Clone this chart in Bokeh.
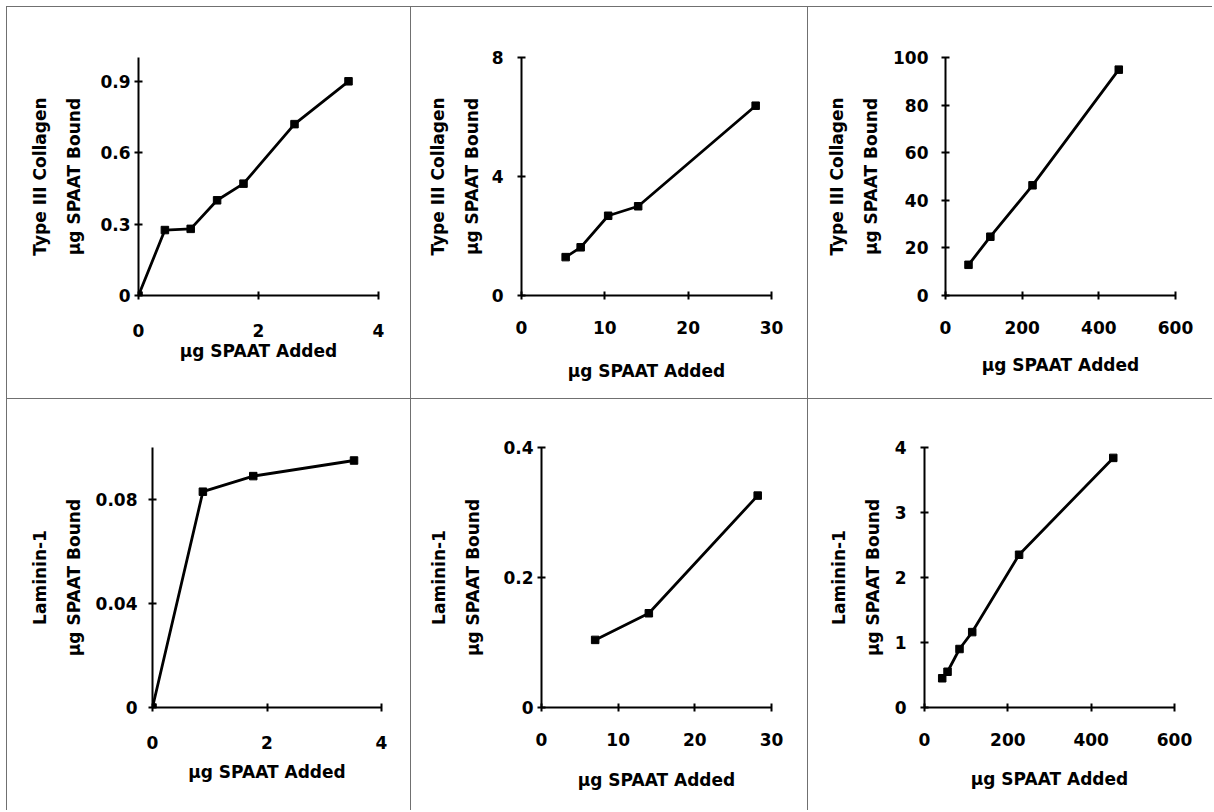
from bokeh.plotting import figure
from bokeh.layouts import column, row
from bokeh.models import FixedTicker, Range1d
from bokeh.embed import file_html
from bokeh.resources import INLINE

# ---------------- data ----------------
x_label = "µg SPAAT Added"
y_labels = ["Type III Collagen\nµg SPAAT Bound", "Type III Collagen\nµg SPAAT Bound",
            "Type III Collagen\nµg SPAAT Bound", "Laminin-1\nµg SPAAT Bound",
            "Laminin-1\nµg SPAAT Bound", "Laminin-1\nµg SPAAT Bound"]

p1_x = [0, 0.44, 0.87, 1.31, 1.75, 2.6, 3.5]
p1_y = [0, 0.275, 0.28, 0.40, 0.47, 0.72, 0.90]
p2_x = [5.3, 7.1, 10.4, 14.0, 28.1]
p2_y = [1.29, 1.62, 2.68, 3.0, 6.38]
p3_x = [60, 117, 227, 452]
p3_y = [12.9, 24.7, 46.3, 94.9]
p4_x = [0, 0.88, 1.76, 3.52]
p4_y = [0, 0.083, 0.089, 0.095]
p5_x = [7.0, 14.0, 28.2]
p5_y = [0.104, 0.145, 0.326]
p6_x = [42.5, 55.3, 84, 114.5, 227, 453]
p6_y = [0.45, 0.55, 0.90, 1.16, 2.35, 3.84]

x_ticks = [[0, 2, 4], [0, 10, 20, 30], [0, 200, 400, 600],
           [0, 2, 4], [0, 10, 20, 30], [0, 200, 400, 600]]
x_tick_labels = [["0", "2", "4"], ["0", "10", "20", "30"], ["0", "200", "400", "600"],
                 ["0", "2", "4"], ["0", "10", "20", "30"], ["0", "200", "400", "600"]]
y_ticks = [[0, 0.3, 0.6, 0.9], [0, 4, 8], [0, 20, 40, 60, 80, 100],
           [0, 0.04, 0.08], [0, 0.2, 0.4], [0, 1, 2, 3, 4]]
y_tick_labels = [["0", "0.3", "0.6", "0.9"], ["0", "4", "8"], ["0", "20", "40", "60", "80", "100"],
                 ["0", "0.04", "0.08"], ["0", "0.2", "0.4"], ["0", "1", "2", "3", "4"]]
x_ranges = [(0, 4), (0, 30), (0, 600), (0, 4), (0, 30), (0, 600)]
y_ranges = [(0, 1.0), (0, 8), (0, 100), (0, 0.10), (0, 0.4), (0, 4)]

xs = [p1_x, p2_x, p3_x, p4_x, p5_x, p6_x]
ys = [p1_y, p2_y, p3_y, p4_y, p5_y, p6_y]

# ---------------- layout (pixels) ----------------
# (cell_w, cell_h, left, right, top, bottom)
geom = [
    (410, 398, 138, 32, 57, 99),
    (397, 398, 111, 36, 57, 99),
    (405, 398, 138, 37, 55, 103),
    (410, 412, 152, 29, 49, 100),
    (397, 412, 131, 36, 49, 101),
    (405, 412, 117, 38, 46, 103),
]
ytick_standoff = [4, 14, 13, 11, 4, 14]
ylabel_standoff = [13, 7, 9, 9, 17, 9]
xtick_standoff = [24, 21, 21, 24, 21, 21]
xlabel_standoff = [1, 24, 18, 10, 21, 20]

FONT = "DejaVu Sans"
G = "#707070"
borders = [
    f"inset 6px 6px 0 0 #ffffff, inset 7px 7px 0 0 {G}",
    f"inset 0 6px 0 0 #ffffff, inset 0 7px 0 0 {G}, inset 1px 0 0 0 {G}",
    f"inset 0 6px 0 0 #ffffff, inset 0 7px 0 0 {G}, inset 1px 0 0 0 {G}",
    f"inset 6px 0 0 0 #ffffff, inset 7px 0 0 0 {G}, inset 0 1px 0 0 {G}",
    f"inset 1px 1px 0 0 {G}",
    f"inset 1px 1px 0 0 {G}",
]

figs = []
for i in range(6):
    cw, ch, left, right, top, bottom = geom[i]
    p = figure(output_backend="svg", toolbar_location=None,
               width=cw, height=ch,
               min_border_left=left, min_border_right=right,
               min_border_top=top, min_border_bottom=bottom,
               x_range=Range1d(*x_ranges[i]), y_range=Range1d(*y_ranges[i]),
               tools="")
    p.outline_line_color = None
    p.grid.visible = False
    p.background_fill_color = None
    p.border_fill_color = None
    p.styles = {"box-shadow": borders[i]}

    p.line(xs[i], ys[i], line_color="black", line_width=2.8)
    p.scatter(xs[i], ys[i], marker="square", size=7.5, fill_color="black", line_color="black")

    for ax in (p.xaxis[0], p.yaxis[0]):
        ax.axis_line_width = 2
        ax.axis_line_color = "black"
        ax.major_tick_line_width = 2
        ax.major_tick_line_color = "black"
        ax.major_tick_in = 4
        ax.major_tick_out = 4
        ax.minor_tick_line_color = None
        ax.major_label_text_font = FONT
        ax.major_label_text_font_style = "bold"
        ax.major_label_text_font_size = "17px"
        ax.major_label_text_color = "black"
        ax.axis_label_text_font = FONT
        ax.axis_label_text_font_style = "bold"
        ax.axis_label_text_font_size = "17px"
        ax.axis_label_text_color = "black"

    xa = p.xaxis[0]
    xa.ticker = FixedTicker(ticks=x_ticks[i])
    xa.major_label_overrides = {t: l for t, l in zip(x_ticks[i], x_tick_labels[i])}
    xa.major_label_standoff = xtick_standoff[i]
    xa.axis_label = x_label
    xa.axis_label_standoff = xlabel_standoff[i]

    ya = p.yaxis[0]
    ya.ticker = FixedTicker(ticks=y_ticks[i])
    ya.major_label_overrides = {t: l for t, l in zip(y_ticks[i], y_tick_labels[i])}
    ya.major_label_standoff = ytick_standoff[i]
    ya.axis_label = y_labels[i]
    ya.axis_label_standoff = ylabel_standoff[i]
    ya.axis_label_text_line_height = 1.7
    figs.append(p)

layout = column(row(*figs[0:3]), row(*figs[3:6]))

open("out.html", "w").write(file_html(layout, INLINE))
